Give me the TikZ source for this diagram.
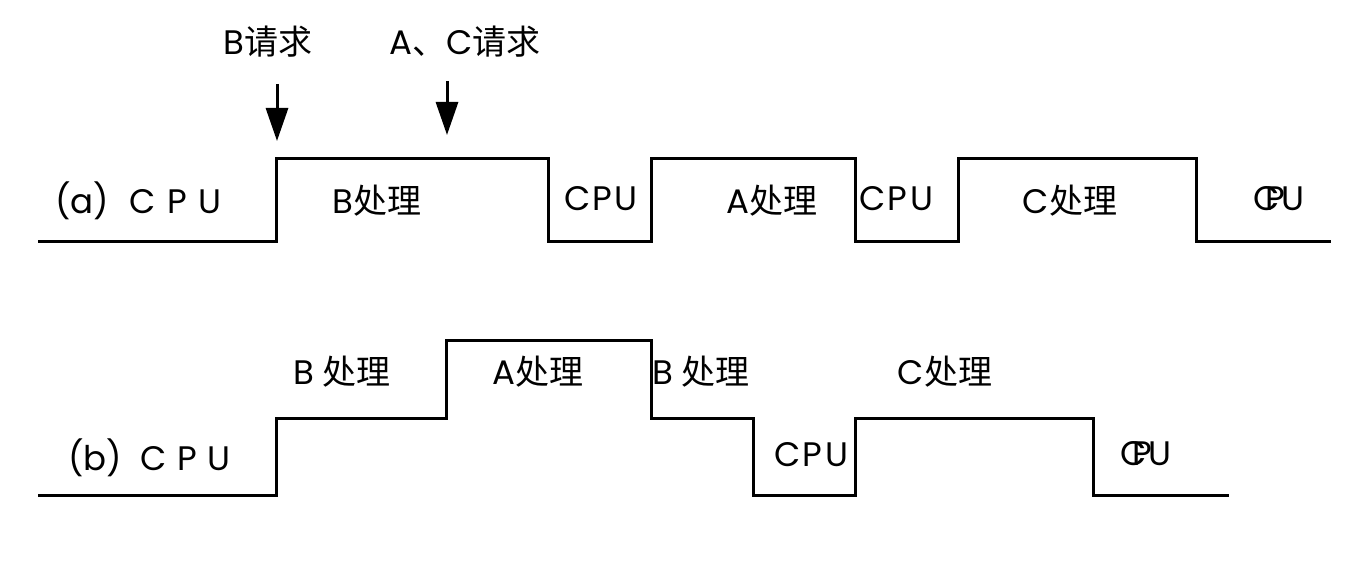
\documentclass[tikz,border=0pt]{standalone}
\usepackage{fontspec}
\setmainfont{Poppins}
\newfontfamily\cjk{Noto Sans CJK SC}
\usetikzlibrary{arrows.meta}
\tikzset{
  wave/.style={line width=3pt, line join=miter},
  lbl/.style={font=\fontsize{34}{40}\selectfont, inner sep=0pt, anchor=center},
  reqarrow/.style={line width=3pt, -{Triangle[length=33pt,width=22pt]}},
}
\newcommand{\squeezecpu}{C\kern-0.42em P\kern-0.12em U}
\newcommand{\spcpu}{C\kern2.5pt P\kern2.5pt U}
\begin{document}
\begin{tikzpicture}[x=1pt,y=-1pt]
\useasboundingbox (0,0) rectangle (1364,572);
% ---- (a) waveform
\coordinate (a0) at (38,241);
\coordinate (a1) at (276,241);
\coordinate (a2) at (276,159);
\coordinate (a3) at (548,159);
\coordinate (a4) at (548,241);
\coordinate (a5) at (651,241);
\coordinate (a6) at (651,159);
\coordinate (a7) at (855,159);
\coordinate (a8) at (855,241);
\coordinate (a9) at (958,241);
\coordinate (a10) at (958,159);
\coordinate (a11) at (1196,159);
\coordinate (a12) at (1196,241);
\coordinate (a13) at (1331,241);
\draw[wave] (a0) -- (a1) -- (a2) -- (a3) -- (a4) -- (a5) -- (a6) -- (a7) -- (a8) -- (a9) -- (a10) -- (a11) -- (a12) -- (a13);
% ---- (b) waveform
\coordinate (b0) at (38,495);
\coordinate (b1) at (276,495);
\coordinate (b2) at (276,418);
\coordinate (b3) at (446,418);
\coordinate (b4) at (446,340);
\coordinate (b5) at (651,340);
\coordinate (b6) at (651,418);
\coordinate (b7) at (753,418);
\coordinate (b8) at (753,495);
\coordinate (b9) at (855,495);
\coordinate (b10) at (855,418);
\coordinate (b11) at (1093,418);
\coordinate (b12) at (1093,495);
\coordinate (b13) at (1229,495);
\draw[wave] (b0) -- (b1) -- (b2) -- (b3) -- (b4) -- (b5) -- (b6) -- (b7) -- (b8) -- (b9) -- (b10) -- (b11) -- (b12) -- (b13);
% ---- request labels and arrows
\node[lbl] (reqB) at (268,42) {B{\cjk 请求}};
\node[lbl] (reqAC) at (465,42) {A{\cjk 、}C{\cjk 请求}};
\coordinate (arBtop) at (277,84);
\coordinate (arBtip) at (277,141);
\coordinate (arAtop) at (447,81);
\coordinate (arAtip) at (447,135);
\draw[reqarrow] (arBtop) -- (arBtip);
\draw[reqarrow] (arAtop) -- (arAtip);
% ---- (a) labels
\node[lbl, anchor=west] (laCPU0) at (55,201) {(a)\hspace{20pt}C\hspace{12pt}P\hspace{12pt}U};
\node[lbl] (laB) at (377,201) {B{\cjk 处理}};
\node[lbl] (laCPU1) at (601,199) {\spcpu};
\node[lbl] (laA) at (772,201) {A{\cjk 处理}};
\node[lbl] (laCPU2) at (896,199) {\spcpu};
\node[lbl] (laC) at (1070,201) {C{\cjk 处理}};
\node[lbl] (laCPU3) at (1279,199) {\squeezecpu};
% ---- (b) labels
\node[lbl, anchor=west] (lbCPU0) at (68,458) {(b)\hspace{18pt}C\hspace{11pt}P\hspace{11pt}U};
\node[lbl] (lbB1) at (342,372) {B {\cjk 处理}};
\node[lbl] (lbA) at (538,372) {A{\cjk 处理}};
\node[lbl] (lbB2) at (701,372) {B {\cjk 处理}};
\node[lbl] (lbCPU1) at (811,455) {\spcpu};
\node[lbl] (lbC) at (945,372) {C{\cjk 处理}};
\node[lbl] (lbCPU2) at (1146,454) {\squeezecpu};
\end{tikzpicture}
\end{document}
